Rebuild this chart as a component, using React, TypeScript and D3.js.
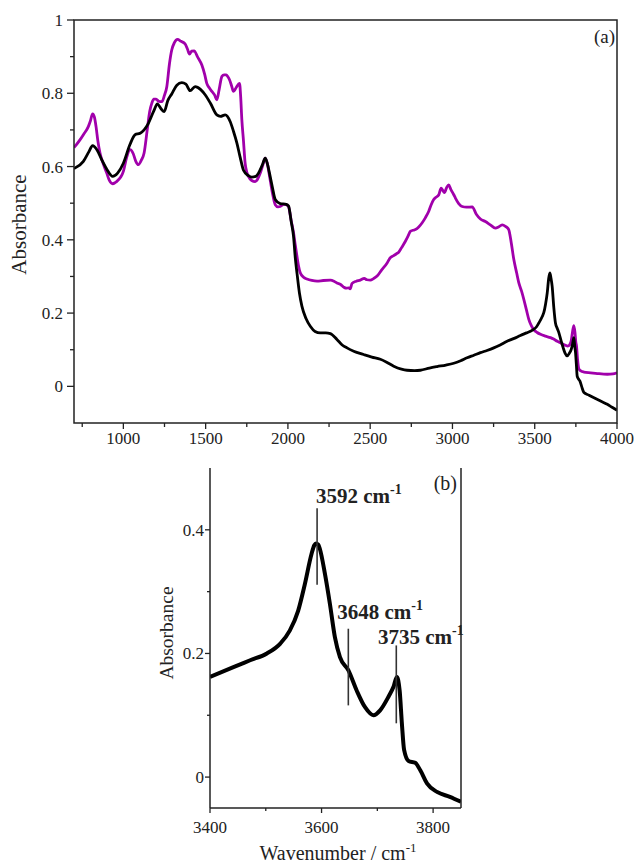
import React from "react";
import * as d3 from "d3";

// ---------- Data ----------
// Panel (a): black spectrum
const aBlackWn = [700,706,757,790,813,840,868,900,935,965,1000,1040,1071,1102,1152,1185,1207,1230,1248,1270,1294,1325,1355,1380,1406,1436,1470,1497,1530,1568,1590,1619,1649,1670,1690,1710,1730,1760,1781,1805,1821,1845,1862,1875,1888,1905,1923,1953,1990,2004,2020,2034,2045,2055,2070,2085,2110,2136,2165,2197,2230,2258,2298,2330,2359,2400,2460,2510,2562,2600,2643,2690,2724,2770,2805,2860,2907,2960,3008,3050,3089,3130,3170,3210,3251,3290,3332,3375,3413,3450,3484,3510,3525,3545,3555,3566,3576,3585,3592,3599,3606,3616,3626,3637,3647,3660,3673,3685,3697,3710,3722,3731,3738,3743,3748,3753,3758,3766,3774,3785,3799,3830,3860,3900,3941,3970,4000];
const aBlackAbs = [0.595,0.596,0.614,0.640,0.657,0.645,0.619,0.592,0.573,0.582,0.609,0.660,0.687,0.691,0.718,0.752,0.771,0.757,0.750,0.780,0.798,0.822,0.829,0.825,0.807,0.818,0.810,0.796,0.772,0.741,0.737,0.741,0.723,0.695,0.664,0.625,0.590,0.575,0.571,0.573,0.582,0.605,0.623,0.608,0.582,0.545,0.510,0.499,0.497,0.492,0.450,0.410,0.350,0.310,0.255,0.219,0.185,0.164,0.150,0.146,0.146,0.144,0.128,0.113,0.105,0.096,0.087,0.080,0.074,0.066,0.055,0.047,0.044,0.043,0.044,0.050,0.054,0.058,0.063,0.070,0.078,0.085,0.092,0.098,0.105,0.113,0.123,0.131,0.139,0.146,0.153,0.162,0.173,0.190,0.201,0.225,0.255,0.295,0.310,0.295,0.273,0.215,0.173,0.158,0.146,0.125,0.105,0.090,0.083,0.090,0.101,0.118,0.133,0.110,0.092,0.060,0.028,0.020,0.015,0.000,-0.017,-0.024,-0.031,-0.040,-0.049,-0.057,-0.065];

// Panel (a): magenta spectrum
const aMagentaWn = [700,706,735,757,787,800,813,824,834,845,858,880,899,915,935,950,970,985,1000,1020,1041,1060,1075,1091,1110,1126,1145,1160,1173,1185,1199,1215,1234,1250,1264,1280,1294,1310,1329,1350,1375,1390,1402,1415,1430,1450,1477,1495,1507,1522,1538,1555,1568,1582,1599,1612,1625,1635,1645,1658,1669,1685,1706,1713,1720,1730,1740,1750,1760,1780,1801,1815,1832,1848,1862,1875,1888,1905,1923,1940,1953,1975,1990,2004,2020,2034,2045,2055,2065,2075,2095,2116,2145,2177,2215,2258,2280,2298,2320,2339,2355,2369,2378,2390,2415,2440,2464,2480,2501,2520,2542,2570,2603,2620,2643,2660,2673,2690,2714,2730,2744,2760,2775,2795,2815,2835,2856,2870,2886,2900,2917,2931,2941,2951,2965,2977,2990,3008,3018,3038,3059,3085,3120,3145,3170,3200,3230,3261,3280,3302,3322,3342,3358,3373,3390,3403,3420,3434,3450,3464,3480,3494,3515,3535,3565,3596,3615,3637,3660,3687,3700,3713,3722,3730,3738,3745,3750,3754,3760,3768,3780,3799,3840,3880,3941,3975,4000];
const aMagentaAbs = [0.652,0.655,0.672,0.687,0.709,0.725,0.744,0.735,0.709,0.670,0.637,0.605,0.582,0.562,0.553,0.556,0.564,0.572,0.587,0.625,0.646,0.635,0.615,0.605,0.618,0.637,0.700,0.750,0.773,0.784,0.784,0.778,0.777,0.795,0.818,0.880,0.918,0.938,0.947,0.942,0.935,0.920,0.907,0.915,0.916,0.900,0.877,0.850,0.827,0.815,0.805,0.795,0.782,0.810,0.846,0.850,0.850,0.845,0.837,0.820,0.805,0.815,0.827,0.790,0.728,0.670,0.609,0.585,0.573,0.562,0.559,0.565,0.582,0.605,0.623,0.608,0.575,0.530,0.496,0.490,0.491,0.497,0.496,0.490,0.452,0.420,0.385,0.355,0.328,0.310,0.298,0.293,0.289,0.287,0.289,0.290,0.287,0.282,0.278,0.271,0.268,0.269,0.266,0.281,0.287,0.290,0.295,0.291,0.290,0.294,0.301,0.318,0.337,0.350,0.357,0.362,0.366,0.378,0.396,0.410,0.423,0.426,0.428,0.435,0.446,0.460,0.478,0.495,0.510,0.516,0.523,0.541,0.535,0.529,0.543,0.550,0.538,0.523,0.514,0.499,0.491,0.489,0.490,0.470,0.457,0.450,0.441,0.432,0.435,0.441,0.437,0.428,0.390,0.346,0.310,0.283,0.260,0.237,0.208,0.183,0.165,0.155,0.147,0.142,0.137,0.133,0.129,0.123,0.118,0.112,0.110,0.114,0.125,0.150,0.166,0.145,0.120,0.110,0.075,0.048,0.042,0.039,0.037,0.035,0.033,0.034,0.037];

// Panel (b): OH region
const bWn = [3400,3442,3472,3502,3526,3543,3558,3570,3582,3587,3590,3594,3597,3606,3615,3624,3633,3648,3663,3678,3693,3705,3720,3729,3735,3740,3744,3748,3756,3768,3777,3789,3807,3830,3850];
const bAbs = [0.162,0.178,0.189,0.200,0.216,0.237,0.269,0.312,0.361,0.375,0.378,0.376,0.369,0.329,0.280,0.226,0.194,0.173,0.140,0.113,0.100,0.108,0.130,0.146,0.162,0.140,0.087,0.044,0.026,0.023,0.011,-0.010,-0.024,-0.032,-0.040];

// Axis ticks
const aXMajor = [1000, 1500, 2000, 2500, 3000, 3500, 4000];
const aXMinor = [750, 1250, 1750, 2250, 2750, 3250, 3750];
const aYMajor = [0, 0.2, 0.4, 0.6, 0.8, 1];
const aYMinor = [0.1, 0.3, 0.5, 0.7, 0.9];
const bXMajor = [3400, 3600, 3800];
const bXMinor = [3500, 3700];
const bYMajor = [0, 0.2, 0.4];
const bYMinor = [0.1, 0.3];

// Peak annotations (panel b): wavenumber, line top/bottom, label anchor
const peakLabels = ["3592", "3648", "3735"];
const peakWn = [3592, 3648, 3734];
const peakTop = [0.435, 0.24, 0.213];
const peakBottom = [0.311, 0.116, 0.087];
const peakLabelWn = [3590, 3628, 3701];
const peakLabelAbs = [0.444, 0.255, 0.216];

const FONT = "'Liberation Serif', 'Times New Roman', serif";
const MAGENTA = "#a100ab";

const fmt = (v: number) => String(+v.toFixed(2));

export default function App() {
  // Panel (a) geometry
  const aL = 74, aR = 617, aT = 20, aB = 423;
  const ax = d3.scaleLinear().domain([700, 4000]).range([aL, aR]);
  const ay = d3.scaleLinear().domain([-0.1, 1]).range([aB, aT]);

  // Panel (b) geometry
  const bL = 210, bR = 461, bT = 468, bB = 808;
  const bx = d3.scaleLinear().domain([3400, 3850]).range([bL, bR]);
  const by = d3.scaleLinear().domain([-0.05, 0.5]).range([bB, bT]);

  const lineA = d3
    .line<[number, number]>()
    .x((d) => ax(d[0]))
    .y((d) => ay(d[1]))
    .curve(d3.curveMonotoneX);
  const lineB = d3
    .line<[number, number]>()
    .x((d) => bx(d[0]))
    .y((d) => by(d[1]))
    .curve(d3.curveMonotoneX);

  const black = aBlackWn.map((w, i) => [w, aBlackAbs[i]] as [number, number]);
  const magenta = aMagentaWn.map((w, i) => [w, aMagentaAbs[i]] as [number, number]);
  const bData = bWn.map((w, i) => [w, bAbs[i]] as [number, number]);

  const axisColor = "#222";

  return (
    <svg
      width={636}
      height={864}
      style={{ position: "absolute", left: 0, top: 0, background: "#fff" }}
      fontFamily={FONT}
    >
      <rect x={0} y={0} width={636} height={864} fill="#fff" />

      {/* ---------- Panel (a) ---------- */}
      <clipPath id="clipA">
        <rect x={aL} y={aT} width={aR - aL} height={aB - aT} />
      </clipPath>
      <g clipPath="url(#clipA)">
        <path d={lineA(magenta) || ""} fill="none" stroke={MAGENTA} strokeWidth={2.8} strokeLinejoin="round" />
        <path d={lineA(black) || ""} fill="none" stroke="#000" strokeWidth={2.8} strokeLinejoin="round" />
      </g>
      <rect x={aL} y={aT} width={aR - aL} height={aB - aT} fill="none" stroke={axisColor} strokeWidth={1.5} />
      {aXMajor.map((v) => (
        <g key={"axM" + v}>
          <line x1={ax(v)} x2={ax(v)} y1={aB} y2={aB + 6} stroke={axisColor} strokeWidth={1.3} />
          <text x={ax(v)} y={aB + 21} fontSize={17} textAnchor="middle" fill="#222">
            {v}
          </text>
        </g>
      ))}
      {aXMinor.map((v) => (
        <line key={"axm" + v} x1={ax(v)} x2={ax(v)} y1={aB} y2={aB + 4} stroke={axisColor} strokeWidth={1.3} />
      ))}
      {aYMajor.map((v) => (
        <g key={"ayM" + v}>
          <line x1={aL - 7} x2={aL} y1={ay(v)} y2={ay(v)} stroke={axisColor} strokeWidth={1.3} />
          <text x={aL - 11} y={ay(v) + 6} fontSize={17} textAnchor="end" fill="#222">
            {fmt(v)}
          </text>
        </g>
      ))}
      {aYMinor.map((v) => (
        <line key={"aym" + v} x1={aL - 4} x2={aL} y1={ay(v)} y2={ay(v)} stroke={axisColor} strokeWidth={1.3} />
      ))}
      <text x={aR - 2} y={43} fontSize={19} textAnchor="end" fill="#222">
        (a)
      </text>
      <text
        transform={`translate(26, ${(aT + aB) / 2 + 3}) rotate(-90)`}
        fontSize={21}
        textAnchor="middle"
        fill="#222"
      >
        Absorbance
      </text>

      {/* ---------- Panel (b) ---------- */}
      <clipPath id="clipB">
        <rect x={bL} y={bT} width={bR - bL} height={bB - bT} />
      </clipPath>
      <g clipPath="url(#clipB)">
        <path d={lineB(bData) || ""} fill="none" stroke="#000" strokeWidth={4} strokeLinejoin="round" />
      </g>
      {peakWn.map((w, i) => (
        <line
          key={"pk" + i}
          x1={bx(w)}
          x2={bx(w)}
          y1={by(peakTop[i])}
          y2={by(peakBottom[i])}
          stroke="#333"
          strokeWidth={1.6}
        />
      ))}
      {peakLabels.map((lab, i) => (
        <text
          key={"pl" + i}
          x={bx(peakLabelWn[i])}
          y={by(peakLabelAbs[i])}
          fontSize={21}
          fontWeight="bold"
          fill="#222"
        >
          {lab + " cm"}
          <tspan fontSize={14} dy={-9}>
            -1
          </tspan>
        </text>
      ))}
      {/* axes: left, bottom, right */}
      <line x1={bL} x2={bL} y1={bT} y2={bB} stroke={axisColor} strokeWidth={1.5} />
      <line x1={bR} x2={bR} y1={bT} y2={bB} stroke={axisColor} strokeWidth={1.5} />
      <line x1={bL} x2={bR} y1={bB} y2={bB} stroke={axisColor} strokeWidth={1.5} />
      {bXMajor.map((v) => (
        <g key={"bxM" + v}>
          <line x1={bx(v)} x2={bx(v)} y1={bB} y2={bB + 5} stroke={axisColor} strokeWidth={1.3} />
          <text x={bx(v)} y={bB + 25} fontSize={17} textAnchor="middle" fill="#222">
            {v}
          </text>
        </g>
      ))}
      {bXMinor.map((v) => (
        <line key={"bxm" + v} x1={bx(v)} x2={bx(v)} y1={bB} y2={bB + 3} stroke={axisColor} strokeWidth={1.3} />
      ))}
      {bYMajor.map((v) => (
        <g key={"byM" + v}>
          <line x1={bL - 5} x2={bL} y1={by(v)} y2={by(v)} stroke={axisColor} strokeWidth={1.3} />
          <text x={bL - 6} y={by(v) + 6} fontSize={17} textAnchor="end" fill="#222">
            {fmt(v)}
          </text>
        </g>
      ))}
      {bYMinor.map((v) => (
        <line key={"bym" + v} x1={bL - 3} x2={bL} y1={by(v)} y2={by(v)} stroke={axisColor} strokeWidth={1.3} />
      ))}
      <text x={bR - 4} y={490} fontSize={20} textAnchor="end" fill="#222">
        (b)
      </text>
      <text
        transform={`translate(173, ${633}) rotate(-90)`}
        fontSize={19.5}
        textAnchor="middle"
        fill="#222"
      >
        Absorbance
      </text>
      <text x={338} y={860} fontSize={20} textAnchor="middle" fill="#222">
        Wavenumber / cm
        <tspan fontSize={13} dy={-8}>
          -1
        </tspan>
      </text>
    </svg>
  );
}
